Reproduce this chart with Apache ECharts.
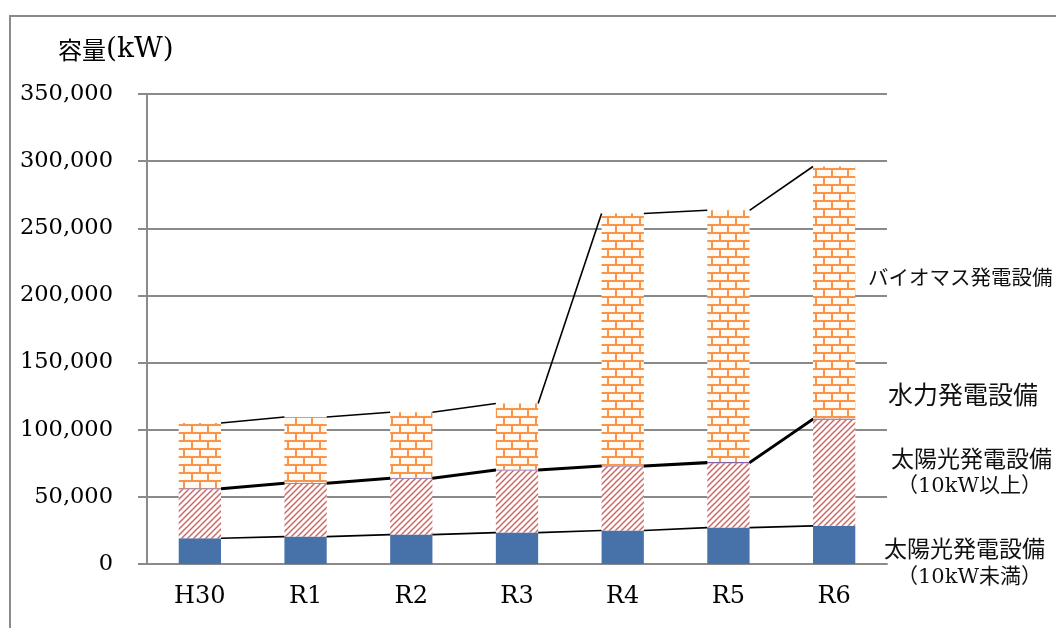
<!DOCTYPE html>
<html><head><meta charset="utf-8">
<script src="https://cdn.jsdelivr.net/npm/echarts@6/dist/echarts.min.js"></script>
<style>html,body{margin:0;padding:0;background:#fff}#c{width:1056px;height:628px}</style>
</head><body><div id="c"></div>
<script>
const categories = ['H30', 'R1', 'R2', 'R3', 'R4', 'R5', 'R6'];
const solarSmall = [19200, 20400, 21900, 23400, 24900, 27100, 28400];
const solarLarge = [36500, 39300, 41500, 46200, 47700, 48000, 79100];
const hydro = [800, 800, 800, 800, 800, 800, 800];
const biomass = [48500, 49000, 48800, 49100, 187600, 187500, 187700];
const yTicks = { min: 0, max: 350000, interval: 50000 };
const seriesNames = ['太陽光発電設備（10kW未満）', '太陽光発電設備（10kW以上）', '水力発電設備', 'バイオマス発電設備'];

const SERIF = "'DejaVu Serif', 'Noto Sans CJK JP'";
const CJK = "'Noto Sans CJK JP'";

function brickPattern() {
  const c = document.createElement('canvas');
  c.width = 16; c.height = 16;
  const g = c.getContext('2d');
  g.fillStyle = '#fffaf3'; g.fillRect(0, 0, 16, 16);
  g.fillStyle = '#f7964a';
  g.fillRect(0, 0, 16, 2);
  g.fillRect(0, 8, 16, 2);
  g.fillRect(7, 2, 2, 6);
  g.fillRect(15, 10, 2, 6);
  g.fillRect(-1, 10, 2, 6);
  return c;
}
function hatchPattern() {
  const c = document.createElement('canvas');
  c.width = 6; c.height = 6;
  const g = c.getContext('2d');
  g.fillStyle = '#ffffff'; g.fillRect(0, 0, 6, 6);
  g.strokeStyle = '#cc6766';
  g.lineWidth = 1.5;
  [[0, 6, 6, 0], [-6, 6, 6, -6], [0, 12, 12, 0]].forEach(function (l) {
    g.beginPath(); g.moveTo(l[0], l[1]); g.lineTo(l[2], l[3]); g.stroke();
  });
  return c;
}

// stacked tops for series lines
const top1 = solarSmall.slice();
const top2 = solarSmall.map((v, i) => v + solarLarge[i]);
const top3 = top2.map((v, i) => v + hydro[i]);
const top4 = top3.map((v, i) => v + biomass[i]);
function linkData(tops) {
  const d = [];
  for (let i = 0; i < tops.length - 1; i++) d.push([i, tops[i], tops[i + 1]]);
  return d;
}
function linkSeries(tops, w) {
  return {
    type: 'custom',
    data: linkData(tops),
    z: 5,
    silent: true,
    renderItem: function (params, api) {
      const i = api.value(0);
      const p1 = api.coord([i, api.value(1)]);
      const p2 = api.coord([i + 1, api.value(2)]);
      const half = api.size([1, 0])[0] * 0.2;
      return {
        type: 'line',
        shape: { x1: p1[0] + half, y1: p1[1], x2: p2[0] - half, y2: p2[1] },
        style: { stroke: '#000', lineWidth: w }
      };
    }
  };
}

const chart = echarts.init(document.getElementById('c'));
chart.setOption({
  animation: false,
  backgroundColor: '#fff',
  grid: { left: 147, right: 169, top: 94, bottom: 64 },
  xAxis: {
    type: 'category',
    data: categories,
    axisLine: { lineStyle: { color: '#8a8a8a', width: 2 } },
    axisTick: { length: 8, lineStyle: { color: '#8a8a8a', width: 2 } },
    axisLabel: { color: '#000', fontFamily: SERIF, fontSize: 24, margin: 21 }
  },
  yAxis: {
    type: 'value',
    min: yTicks.min, max: yTicks.max, interval: yTicks.interval,
    axisLine: { show: true, lineStyle: { color: '#8a8a8a', width: 2 } },
    axisTick: { show: true, length: 9, lineStyle: { color: '#8a8a8a', width: 2 } },
    splitLine: { lineStyle: { color: '#8a8a8a', width: 2 } },
    axisLabel: {
      color: '#000', fontFamily: SERIF, fontSize: 22.5, margin: 34,
      formatter: v => v.toLocaleString('en-US')
    }
  },
  series: [
    { name: seriesNames[0], type: 'bar', stack: 's', barWidth: '40%', data: solarSmall,
      itemStyle: { color: '#4672a9' } },
    { name: seriesNames[1], type: 'bar', stack: 's', data: solarLarge,
      itemStyle: { color: { image: hatchPattern(), repeat: 'repeat' } } },
    { name: seriesNames[2], type: 'bar', stack: 's', data: hydro,
      itemStyle: { color: '#8064a2' } },
    { name: seriesNames[3], type: 'bar', stack: 's', data: biomass,
      itemStyle: { color: { image: brickPattern(), repeat: 'repeat' } } },
    linkSeries(top1, 1.6),
    linkSeries(top2, 2),
    linkSeries(top3, 2),
    linkSeries(top4, 1.6)
  ],
  graphic: [
    { type: 'rect', silent: true, z: -1, shape: { x: 10, y: 16, width: 1200, height: 800 },
      style: { fill: null, stroke: '#8a8a8a', lineWidth: 2 } },
    { type: 'text', left: 58, top: 36, style: {
        text: '{a|容量}{b|(kW)}',
        rich: { a: { fontFamily: CJK, fontSize: 24, fill: '#000' },
                b: { fontFamily: SERIF, fontSize: 28, fill: '#000' } } } },
    { type: 'text', x: 868, y: 277, style: { text: 'バイオマス発電設備', fontFamily: CJK, fontSize: 20.5, fill: '#111', verticalAlign: 'middle' } },
    { type: 'text', x: 888, y: 394, style: { text: '水力発電設備', fontFamily: CJK, fontSize: 25, fill: '#111', verticalAlign: 'middle' } },
    { type: 'text', x: 891, y: 458, style: { text: '太陽光発電設備', fontFamily: CJK, fontSize: 23, fill: '#111', verticalAlign: 'middle' } },
    { type: 'text', x: 897, y: 487, style: { text: '（10kW以上）', fontFamily: SERIF, fontSize: 21, fill: '#111', verticalAlign: 'middle' } },
    { type: 'text', x: 884, y: 548, style: { text: '太陽光発電設備', fontFamily: CJK, fontSize: 23, fill: '#111', verticalAlign: 'middle' } },
    { type: 'text', x: 897, y: 578, style: { text: '（10kW未満）', fontFamily: SERIF, fontSize: 21, fill: '#111', verticalAlign: 'middle' } }
  ]
});
</script>
</body></html>
